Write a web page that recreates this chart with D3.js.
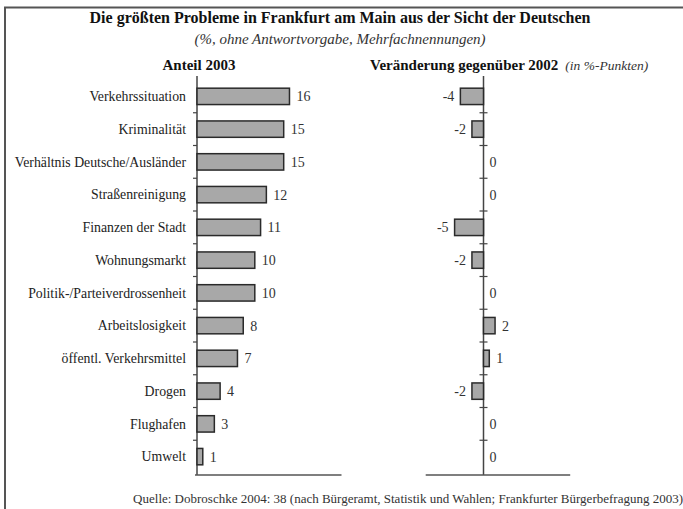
<!DOCTYPE html>
<html><head><meta charset="utf-8">
<script src="https://cdn.jsdelivr.net/npm/d3@7"></script>
<style>
html,body{margin:0;padding:0;background:#fff;}
svg{display:block;}
svg text{font-family:"Liberation Serif","Times New Roman",Times,serif;}
</style></head>
<body>
<svg id="chart" width="683" height="509"></svg>
<script>
const categories = ["Verkehrssituation","Kriminalität","Verhältnis Deutsche/Ausländer","Straßenreinigung","Finanzen der Stadt","Wohnungsmarkt","Politik-/Parteiverdrossenheit","Arbeitslosigkeit","öffentl. Verkehrsmittel","Drogen","Flughafen","Umwelt"];
const share2003 = [16,15,15,12,11,10,10,8,7,4,3,1];
const change2002 = [-4,-2,0,0,-5,-2,0,2,1,-2,0,0];
const titleText = "Die größten Probleme in Frankfurt am Main aus der Sicht der Deutschen";
const subtitleText = "(%, ohne Antwortvorgabe, Mehrfachnennungen)";
const leftHeader = "Anteil 2003";
const rightHeader = "Veränderung gegenüber 2002";
const rightHeaderNote = "(in %-Punkten)";
const sourceText = "Quelle: Dobroschke 2004: 38 (nach Bürgeramt, Statistik und Wahlen; Frankfurter Bürgerbefragung 2003)";

const svg = d3.select("#chart");
const ink = "#2a2a2a";
const barFill = "#a8a8a8";

// frame
svg.append("path").attr("d","M5,509 V7.5 H683").attr("fill","none").attr("stroke","#555").attr("stroke-width",2);

// titles
svg.append("text").attr("x",340).attr("y",23).attr("text-anchor","middle")
  .attr("font-size",16).attr("font-weight","bold").attr("fill","#111").text(titleText);
svg.append("text").attr("x",340).attr("y",44).attr("text-anchor","middle")
  .attr("font-size",15).attr("font-style","italic").attr("fill","#333").text(subtitleText);
svg.append("text").attr("x",199).attr("y",70).attr("text-anchor","middle")
  .attr("font-size",15).attr("font-weight","bold").attr("fill","#111").text(leftHeader);
const rh = svg.append("text").attr("x",370).attr("y",70).attr("fill","#111");
rh.append("tspan").attr("font-size",15).attr("font-weight","bold").text(rightHeader);
rh.append("tspan").attr("dx",7).attr("font-size",13.5).attr("font-style","italic").attr("fill","#333").text(rightHeaderNote);

const y = d3.scaleBand().domain(categories).range([80,473]).paddingInner(0.5).paddingOuter(0.25);
const step = y.step();
const x1 = d3.scaleLinear().domain([0,25]).range([197,341.5]);
const x2 = d3.scaleLinear().domain([-10,15]).range([425.7,570.2]);
const axisBottom = 475, axisTop = 76;

// left panel
const L = svg.append("g");
L.append("line").attr("x1",x1(0)).attr("x2",x1(0)).attr("y1",axisTop).attr("y2",axisBottom).attr("stroke","#444").attr("stroke-width",1.5);
L.append("line").attr("x1",x1(0)-2).attr("x2",x1(25)).attr("y1",axisBottom).attr("y2",axisBottom).attr("stroke","#555").attr("stroke-width",1.5);
categories.slice(1).forEach(c=>{
  const ty = y(c) - step*0.25;
  L.append("line").attr("x1",x1(0)-4).attr("x2",x1(0)).attr("y1",ty).attr("y2",ty).attr("stroke","#444").attr("stroke-width",1.2);
});
L.selectAll("rect").data(categories).join("rect")
  .attr("x",x1(0)).attr("y",d=>y(d)).attr("height",y.bandwidth())
  .attr("width",(d,i)=>x1(share2003[i])-x1(0))
  .attr("fill",barFill).attr("stroke",ink).attr("stroke-width",1.5);
L.selectAll("text.cat").data(categories).join("text").attr("class","cat")
  .attr("x",186).attr("y",d=>y(d)+y.bandwidth()/2).attr("dy","0.35em")
  .attr("text-anchor","end").attr("font-size",13.8).attr("fill","#222").text(d=>d);
L.selectAll("text.val").data(categories).join("text").attr("class","val")
  .attr("x",(d,i)=>x1(share2003[i])+7).attr("y",d=>y(d)+y.bandwidth()/2).attr("dy","0.35em")
  .attr("font-size",14).attr("fill","#333").text((d,i)=>share2003[i]);

// right panel
const R = svg.append("g");
R.append("line").attr("x1",x2(0)).attr("x2",x2(0)).attr("y1",axisTop).attr("y2",axisBottom).attr("stroke","#444").attr("stroke-width",1.5);
R.append("line").attr("x1",x2(-10)).attr("x2",x2(15)).attr("y1",axisBottom).attr("y2",axisBottom).attr("stroke","#555").attr("stroke-width",1.5);
categories.slice(1).forEach(c=>{
  const ty = y(c) - step*0.25;
  R.append("line").attr("x1",x2(0)-4).attr("x2",x2(0)+4).attr("y1",ty).attr("y2",ty).attr("stroke","#444").attr("stroke-width",1.2);
});
R.selectAll("rect").data(categories.filter((c,i)=>change2002[i]!==0)).join("rect")
  .attr("x",d=>{const v=change2002[categories.indexOf(d)];return Math.min(x2(0),x2(v));})
  .attr("y",d=>y(d)).attr("height",y.bandwidth())
  .attr("width",d=>{const v=change2002[categories.indexOf(d)];return Math.abs(x2(v)-x2(0));})
  .attr("fill",barFill).attr("stroke",ink).attr("stroke-width",1.5);
R.selectAll("text.val").data(categories).join("text").attr("class","val")
  .attr("x",(d,i)=>{const v=change2002[i]; return v<0 ? x2(v)-6 : (v===0 ? x2(0)+6 : x2(v)+7);})
  .attr("text-anchor",(d,i)=>change2002[i]<0?"end":"start")
  .attr("y",d=>y(d)+y.bandwidth()/2).attr("dy","0.35em")
  .attr("font-size",14).attr("fill","#333").text((d,i)=>change2002[i]);

// source
svg.append("text").attr("x",683).attr("y",503).attr("text-anchor","end")
  .attr("font-size",13).attr("fill","#333").text(sourceText);
</script>
</body></html>
